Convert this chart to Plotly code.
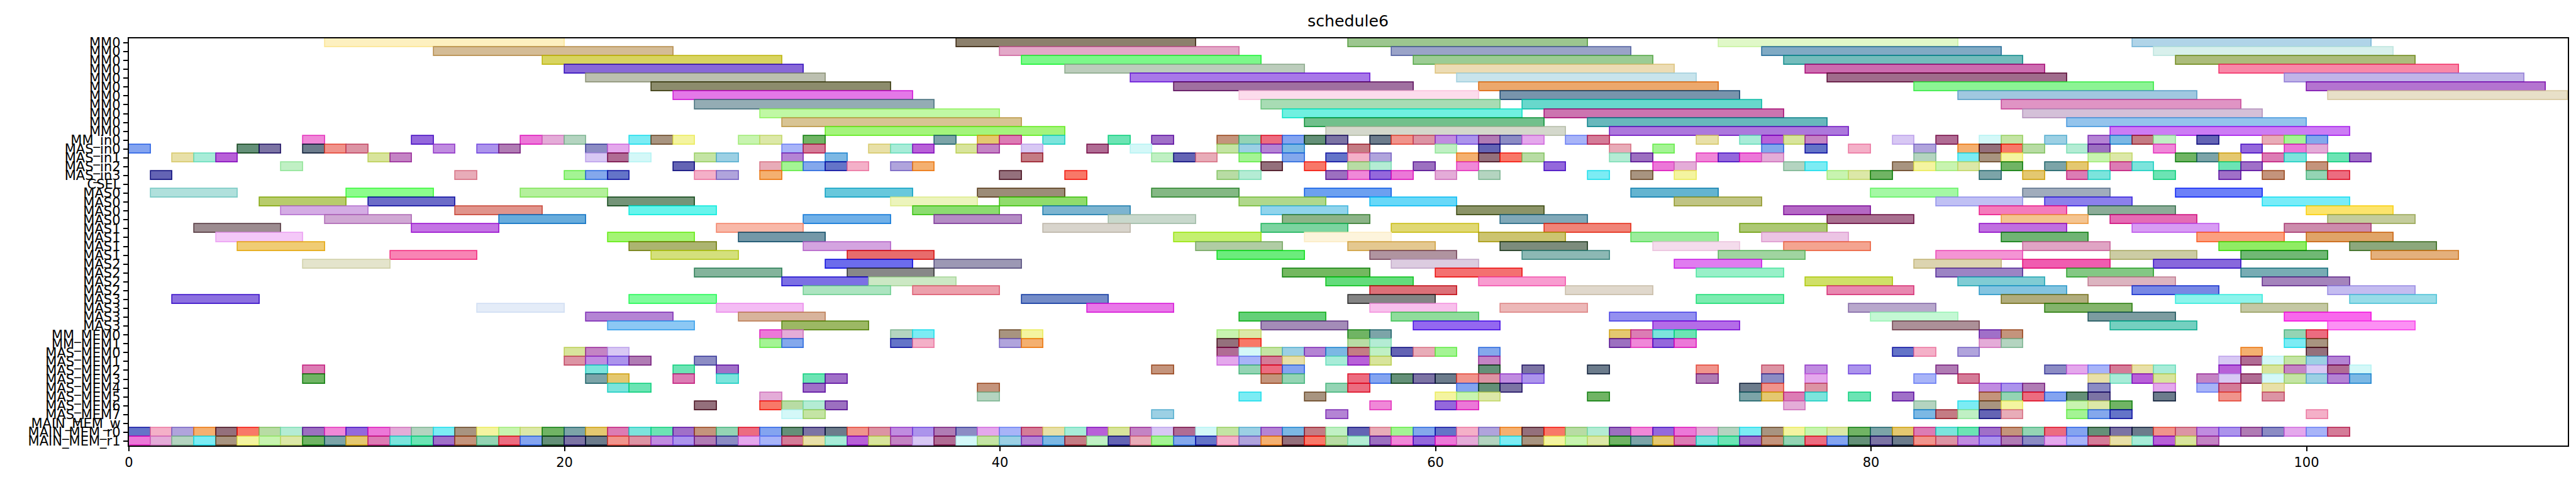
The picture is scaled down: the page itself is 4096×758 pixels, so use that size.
import plotly.graph_objects as go

# ---------------- data ----------------
ROW_LABELS = (["MM0"] * 11 + ["MM_in0", "MAS_in0", "MAS_in1", "MAS_in2", "MAS_in3", "CSEL"]
              + ["MAS0"] * 4 + ["MAS1"] * 4 + ["MAS2"] * 4 + ["MAS3"] * 4
              + ["MM_MEM0", "MM_MEM1"]
              + ["MAS_MEM0", "MAS_MEM1", "MAS_MEM2", "MAS_MEM3", "MAS_MEM4", "MAS_MEM5", "MAS_MEM6", "MAS_MEM7"]
              + ["MAIN_MEM_w", "MAIN_MEM_r0", "MAIN_MEM_r1"])

MM0_DUR = 11
MM0_ROWS = [
    [9, 38, 56, 73, 92],
    [14, 40, 58, 75, 93],
    [19, 41, 59, 76, 94],
    [20, 43, 60, 77, 96],
    [21, 46, 61, 78, 99],
    [24, 48, 62, 82, 100],
    [25, 51, 63, 84, 101],
    [26, 52, 64, 86],
    [29, 53, 65, 87],
    [30, 54, 67, 89],
    [32, 55, 68, 91],
]

MAS_DUR = 4
MAS0_ROWS = [
    [1, 10, 18, 32, 39, 47, 54, 69, 80, 87, 94],
    [6, 11, 22, 35, 40, 51, 57, 71, 83, 88, 98],
    [7, 15, 23, 36, 42, 52, 61, 76, 85, 90, 100],
    [9, 17, 31, 37, 45, 53, 63, 78, 86, 91, 101],
]
MAS1_ROWS = [
    [3, 13, 27, 42, 52, 58, 65, 74, 85, 92, 99],
    [4, 22, 28, 48, 54, 62, 69, 75, 86, 95, 100],
    [5, 23, 31, 49, 56, 63, 70, 76, 87, 96, 102],
    [12, 24, 33, 50, 57, 64, 73, 83, 91, 97, 103],
]
MAS2_ROWS = [
    [8, 32, 37, 58, 71, 82, 87, 93],
    [26, 33, 53, 60, 72, 83, 89, 97],
    [30, 34, 55, 62, 77, 84, 90, 98],
    [31, 36, 57, 66, 78, 85, 92, 101],
]
MAS3_ROWS = [
    [2, 23, 41, 56, 72, 86, 94, 102],
    [16, 27, 44, 57, 63, 79, 88, 97],
    [21, 28, 51, 58, 68, 80, 90, 99],
    [22, 30, 52, 59, 70, 81, 91, 101],
]

UNIT_DUR = 1
MM_IN0 = [8, 13, 18, 19, 20, 23, 24, 25, 28, 29, 31, 37, 39, 40, 42, 45, 47, 50, 51, 52, 53, 54, 55,
          57, 58, 59, 60, 61, 62, 63, 64, 66, 67, 72, 74, 75, 76, 77, 81, 83, 85, 86, 88, 90, 91, 92,
          93, 95, 98, 99, 100]
MAS_IN0 = [0, 5, 6, 8, 9, 10, 14, 16, 17, 21, 22, 30, 31, 34, 35, 36, 38, 39, 41, 44, 46, 50, 51, 52,
           53, 56, 60, 62, 68, 70, 75, 77, 79, 82, 84, 85, 86, 87, 89, 90, 93, 97, 99, 100]
MAS_IN1 = [2, 3, 4, 11, 12, 21, 22, 23, 26, 27, 30, 32, 41, 47, 48, 49, 51, 53, 55, 56, 57, 61, 62, 63,
           64, 68, 69, 72, 73, 74, 75, 82, 84, 85, 86, 90, 91, 94, 95, 96, 98, 99, 101, 102]
MAS_IN2 = [7, 25, 29, 30, 31, 32, 33, 35, 36, 52, 54, 56, 57, 59, 61, 65, 70, 71, 76, 77, 81, 82, 83,
           84, 86, 88, 89, 91, 92, 96, 97, 100]
MAS_IN3 = [1, 15, 20, 21, 22, 26, 27, 29, 40, 43, 50, 51, 55, 56, 57, 58, 60, 62, 67, 69, 71, 78, 79,
           80, 85, 87, 89, 90, 93, 96, 98, 100, 101]
CSEL = []
MM_MEM0 = [29, 30, 35, 36, 40, 41, 50, 51, 56, 57, 68, 69, 70, 71, 85, 86, 99, 100]
MM_MEM1 = [29, 30, 35, 36, 40, 41, 50, 51, 56, 57, 68, 69, 70, 71, 85, 86, 99, 100]
MAS_MEM0 = [20, 21, 22, 50, 51, 52, 53, 54, 55, 56, 57, 58, 59, 60, 62, 81, 82, 84, 97, 100]
MAS_MEM1 = [20, 21, 22, 23, 26, 50, 51, 52, 53, 55, 56, 57, 62, 96, 97, 98, 99, 100, 101]
MAS_MEM2 = [8, 21, 25, 27, 47, 51, 52, 53, 62, 64, 67, 72, 75, 77, 79, 83, 88, 89, 90, 91, 92, 93,
            96, 98, 99, 100, 101, 102]
MAS_MEM3 = [8, 21, 22, 25, 27, 31, 32, 52, 53, 56, 57, 58, 59, 60, 61, 62, 63, 64, 72, 75, 77, 82,
            84, 90, 91, 92, 93, 95, 96, 97, 98, 99, 100, 101, 102]
MAS_MEM4 = [22, 23, 31, 39, 55, 56, 61, 62, 63, 74, 75, 77, 85, 86, 87, 90, 93, 95, 96, 98]
MAS_MEM5 = [29, 39, 51, 54, 60, 61, 62, 67, 74, 75, 76, 77, 79, 81, 85, 86, 87, 88, 89, 90, 93, 96, 98]
MAS_MEM6 = [26, 29, 30, 31, 32, 57, 60, 61, 76, 82, 84, 85, 86, 89, 90, 91]
MAS_MEM7 = [30, 31, 47, 55, 82, 83, 84, 85, 86, 89, 90, 91, 100]
MAIN_MEM_W = []
MAIN_MEM_R0 = [0, 1, 2, 3, 4, 5, 6, 7, 8, 9, 10, 11, 12, 13, 14, 15, 16, 17, 18, 19, 20, 21, 22, 23,
               24, 25, 26, 27, 28, 29, 30, 31, 32, 33, 34, 35, 36, 37, 38, 39, 40, 41, 42, 43, 44, 45,
               46, 47, 48, 49, 50, 51, 52, 53, 54, 55, 56, 57, 58, 59, 60, 61, 62, 63, 64, 65, 66, 67,
               68, 69, 70, 71, 72, 73, 74, 75, 76, 77, 78, 79, 80, 81, 82, 83, 84, 85, 86, 87, 88, 89,
               90, 91, 92, 93, 94, 95, 96, 97, 98, 99, 100, 101]
MAIN_MEM_R1 = [0, 1, 2, 3, 4, 5, 6, 7, 8, 9, 10, 11, 12, 13, 14, 15, 16, 17, 18, 19, 20, 21, 22, 23,
               24, 25, 26, 27, 28, 29, 30, 31, 32, 33, 34, 35, 36, 37, 38, 39, 40, 41, 42, 43, 44, 45,
               46, 47, 48, 49, 50, 51, 52, 53, 54, 55, 56, 57, 58, 59, 60, 61, 62, 63, 64, 65, 66, 67,
               68, 69, 70, 71, 72, 73, 74, 75, 76, 77, 78, 79, 80, 81, 82, 83, 84, 85, 86, 87, 88, 89,
               90, 91, 92, 93, 94, 95]

X_TICKS = [0, 20, 40, 60, 80, 100]
X_MAX = 112

# ---------------- styles ----------------
MM0_COLORS = [
    ['#fdf0c0', '#8c806c', '#9cc68f', '#e0f8c8', '#b0d4e8'],
    ['#d4bc96', '#e3a8c8', '#9aa3c8', '#80aac4', '#d8f0ec'],
    ['#d8d460', '#7cf88a', '#9ccc94', '#74bcbc', '#acbc7c'],
    ['#8868d8', '#bccdbc', '#ecdcb4', '#cc6cb0', '#f888a8'],
    ['#bcc0b0', '#a878e8', '#c8e4ec', '#a06c8c', '#c0b4e8'],
    ['#8c8c6c', '#a070a0', '#eca86c', '#8cf494', '#b474d0'],
    ['#e478e8', '#fcdcec', '#7894ac', '#a0c8e0', '#e8e0c8'],
    ['#94acb4', '#a8dcb4', '#68d8cc', '#e094c4'],
    ['#c0f8a4', '#70f0e0', '#cc74b0', '#d4c0d8'],
    ['#d8c494', '#70c08c', '#68b8bc', '#94c4ec'],
    ['#a4f47c', '#d4d8cc', '#ac78dc', '#cc7cf4'],
]
MAS_COLORS = [
    ['#b0e0dc', '#8cfc8c', '#b4f09c', '#68c8dc', '#9c8c78', '#84b884', '#6ca0f0', '#64b4d0', '#a4f8a4', '#a0acbc', '#6c80f8'],
    ['#b8cc6c', '#6c6cc8', '#749478', '#ecf4bc', '#90dc6c', '#b0d88c', '#68d8f8', '#c0c484', '#c0c0f4', '#8c80ec', '#78ecf8'],
    ['#d4ace4', '#e0948c', '#68f4ec', '#8cdc70', '#7cb4d0', '#90d4ec', '#8c9468', '#b468c4', '#f47cbc', '#8cac98', '#fce46c'],
    ['#d0a8d4', '#68acdc', '#70b0e8', '#b48cc4', '#c8d8cc', '#8cb488', '#80a8b8', '#a87090', '#f4c490', '#e46cb4', '#c4cc9c'],
    ['#9c8c90', '#c474e4', '#f8b8a8', '#d8d4cc', '#7cd4a0', '#e0d874', '#f08478', '#acc874', '#c070e0', '#d89cf4', '#cc8cac'],
    ['#f4c8f8', '#a4f474', '#7498a8', '#c4f070', '#fdf4dc', '#ccc470', '#9cec9c', '#ecc4e4', '#70b474', '#fca080', '#e0a468'],
    ['#f0cc74', '#acb470', '#d4a4e0', '#b0cca4', '#e4c890', '#7c8c7c', '#f4dcec', '#f4a490', '#e0a4c4', '#90ec64', '#8ca87c'],
    ['#f884b4', '#d4e07c', '#e86c6c', '#6cec7c', '#b094a0', '#8cb8b4', '#a0d4a0', '#f494d4', '#cccca4', '#70b874', '#e4b07c'],
    ['#e4e4cc', '#6c6cec', '#9c98b4', '#dccce0', '#e07cf0', '#dcd4b0', '#f05cb0', '#8868dc'],
    ['#84b49c', '#888888', '#74b860', '#f47070', '#98f0c8', '#9c84c4', '#84c884', '#78acb4'],
    ['#7c70e4', '#cce8c4', '#64dc7c', '#f89cd0', '#d0e068', '#80ccd4', '#dcb4c0', '#a484bc'],
    ['#ace4c0', '#eca0ac', '#dc7078', '#e0d8cc', '#e888b0', '#84c4e0', '#7888e4', '#c4bcf0'],
    ['#8c70e0', '#80fc9c', '#748cc8', '#848484', '#7cecb0', '#b0ac7c', '#8cf4ec', '#98dce8'],
    ['#e4ecf8', '#f4bcf4', '#e878e8', '#f8c0ec', '#ecb8b8', '#b8a8cc', '#84b46c', '#c4c8a4'],
    ['#b484d4', '#d8b49c', '#64d078', '#90dc9c', '#9490f0', '#c4f8d4', '#7c9ca0', '#f868ec'],
    ['#8cc8f4', '#9cb864', '#a48cb8', '#9468f0', '#b46ce8', '#ac9098', '#74d0c0', '#fc90f4'],
]
SMALL_PALETTE = ['#c4e4a4', '#b07cb4', '#6ce4b4', '#ec78d8', '#a4f494', '#d8e49c', '#6c7c8c', '#70b464',
                 '#b8dca4', '#7cb8e4', '#a8b4f8', '#94d4b4', '#7cecf4', '#f4b0c8', '#b06c94', '#c08ce0',
                 '#dc7cb4', '#f088d8', '#6464b4', '#a8ecd8', '#649078', '#c8f4b0', '#94707c', '#9cd0e4',
                 '#8c8cc4', '#a070c8', '#e4acd8', '#84a8ec', '#c484c4', '#f0948c', '#7ca4a8', '#b4ecd4',
                 '#c47c84', '#d47c98', '#ec6c80', '#a89480', '#b0a4dc', '#d4f8f8', '#ac94ec', '#7ce4dc',
                 '#9468dc', '#e8acb8', '#b860d8', '#7c74a4', '#dce8a8', '#f87868', '#b484d4', '#e4a8ec',
                 '#c4947c', '#b4d4c0', '#6474c8', '#d8c8f4', '#dc94a4', '#e4c870', '#9c70c0', '#c0f0c4',
                 '#e8e0a8', '#84a4f0', '#f4f4a0', '#f4b070']

S = 0.841
FONT = "DejaVu Sans"


def edge_of(hexc):
    vals = [int(hexc[i:i + 2], 16) for i in (1, 3, 5)]
    base = [int(max(0, min(255, (v - 0.45 * 255) / 0.55))) for v in vals]
    return "rgba(%d,%d,%d,0.85)" % tuple(base)


ys, bases, durs, fills, lines = [], [], [], [], []


def add(row, start, dur, color):
    ys.append(row)
    bases.append(start)
    durs.append(dur)
    fills.append(color)
    lines.append(edge_of(color))


for r, starts in enumerate(MM0_ROWS):
    for j, s0 in enumerate(starts):
        add(r, s0, MM0_DUR, MM0_COLORS[r][j])

mas_all = MAS0_ROWS + MAS1_ROWS + MAS2_ROWS + MAS3_ROWS
for k, starts in enumerate(mas_all):
    for j, s0 in enumerate(starts):
        add(17 + k, s0, MAS_DUR, MAS_COLORS[k][j])

unit_rows = [(11, MM_IN0), (12, MAS_IN0), (13, MAS_IN1), (14, MAS_IN2), (15, MAS_IN3), (16, CSEL),
             (33, MM_MEM0), (34, MM_MEM1), (35, MAS_MEM0), (36, MAS_MEM1), (37, MAS_MEM2),
             (38, MAS_MEM3), (39, MAS_MEM4), (40, MAS_MEM5), (41, MAS_MEM6), (42, MAS_MEM7),
             (43, MAIN_MEM_W), (44, MAIN_MEM_R0), (45, MAIN_MEM_R1)]
cnt = 0
for r, starts in unit_rows:
    for s0 in starts:
        add(r, s0, UNIT_DUR, SMALL_PALETTE[(cnt * 23 + r * 7) % len(SMALL_PALETTE)])
        cnt += 1

fig = go.Figure()
fig.add_trace(go.Bar(
    orientation="h", y=ys, x=durs, base=bases, width=1.0,
    marker=dict(color=fills, line=dict(color=lines, width=2.0 * S)),
    hoverinfo="skip", showlegend=False,
))

W, H = 4096, 758
left, right, top, bottom = 233.7 * S, 4845 * S, 62.7 * S, 832.7 * S
axis_common = dict(showline=True, mirror=True, linecolor="black", linewidth=2.0 * S,
                   ticks="outside", ticklen=8.75 * S, tickwidth=2.0 * S, tickcolor="black",
                   showgrid=False, zeroline=False,
                   tickfont=dict(family=FONT, size=25 * S, color="black"))
fig.update_layout(
    width=W, height=H, barmode="overlay", bargap=0,
    paper_bgcolor="white", plot_bgcolor="white",
    margin=dict(l=left, r=W - right, t=top, b=H - bottom, pad=0),
    title=dict(text="schedule6", x=(left + right) / 2 / W, xanchor="center",
               y=1 - 16 / H, yanchor="top",
               font=dict(family=FONT, size=30 * S, color="black")),
    xaxis=dict(range=[0, X_MAX], tickmode="array", tickvals=X_TICKS,
               ticktext=[str(v) for v in X_TICKS], **axis_common),
    yaxis=dict(range=[len(ROW_LABELS) - 0.5, -0.5], tickmode="array",
               tickvals=list(range(len(ROW_LABELS))), ticktext=ROW_LABELS, **axis_common),
)

fig.write_html("out.html")
